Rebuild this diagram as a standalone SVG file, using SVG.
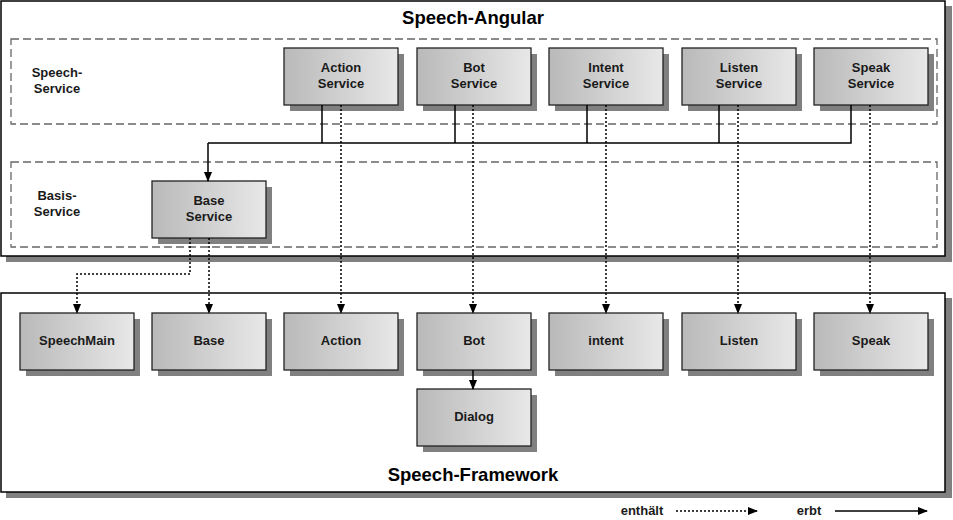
<svg xmlns="http://www.w3.org/2000/svg" width="953" height="520" viewBox="0 0 953 520">
<defs>
<linearGradient id="g" x1="0" x2="1" y1="0" y2="0">
<stop offset="0" stop-color="#b9b9b9"/>
<stop offset="1" stop-color="#e8e8e8"/>
</linearGradient>
<marker id="ah" markerWidth="10" markerHeight="10" refX="9" refY="5" orient="auto" markerUnits="userSpaceOnUse">
<path d="M0,1 L10,5 L0,9 Z" fill="#000"/>
</marker>
<style>
.shadow{fill:#808080}
.box{fill:url(#g);stroke:#222;stroke-width:1.3}
.frame{fill:#fff;stroke:#000;stroke-width:1.5}
.dash{fill:none;stroke:#666;stroke-width:1.3;stroke-dasharray:8,4}
.t{font-family:"Liberation Sans",Arial,sans-serif;font-weight:bold;font-size:13px;fill:#1a1a1a;text-anchor:middle}
.title{font-family:"Liberation Sans",Arial,sans-serif;font-weight:bold;font-size:18.5px;fill:#000;text-anchor:middle}
.inh{fill:none;stroke:#000;stroke-width:1.5}
.con{fill:none;stroke:#000;stroke-width:1.5;stroke-dasharray:2,2}
</style>
</defs>
<rect width="953" height="520" fill="#fff"/>
<g id="speech-angular">
<rect class="shadow" x="6" y="6" width="946" height="256"/>
<rect class="frame" x="1" y="1" width="944" height="255"/>
<text class="title" x="473" y="24">Speech-Angular</text>
</g>
<g id="speech-framework">
<rect class="shadow" x="6" y="298" width="946" height="200"/>
<rect class="frame" x="1" y="293" width="944" height="199"/>
<text class="title" x="473" y="481">Speech-Framework</text>
</g>
<g id="speech-service-group">
<rect class="dash" x="11" y="39" width="926" height="85"/>
<text class="t" x="57" y="77">Speech-</text>
<text class="t" x="57" y="93">Service</text>
</g>
<g id="basis-service-group">
<rect class="dash" x="11" y="162" width="926" height="85"/>
<text class="t" x="57" y="200">Basis-</text>
<text class="t" x="57" y="216">Service</text>
</g>
<g id="action-service"><rect class="shadow" x="290" y="54" width="114" height="57"/><rect class="box" x="284" y="48" width="114" height="57"/><text class="t" x="341" y="72">Action</text><text class="t" x="341" y="88">Service</text></g>
<g id="bot-service"><rect class="shadow" x="423" y="54" width="114" height="57"/><rect class="box" x="417" y="48" width="114" height="57"/><text class="t" x="474" y="72">Bot</text><text class="t" x="474" y="88">Service</text></g>
<g id="intent-service"><rect class="shadow" x="555" y="54" width="114" height="57"/><rect class="box" x="549" y="48" width="114" height="57"/><text class="t" x="606" y="72">Intent</text><text class="t" x="606" y="88">Service</text></g>
<g id="listen-service"><rect class="shadow" x="688" y="54" width="114" height="57"/><rect class="box" x="682" y="48" width="114" height="57"/><text class="t" x="739" y="72">Listen</text><text class="t" x="739" y="88">Service</text></g>
<g id="speak-service"><rect class="shadow" x="820" y="54" width="114" height="57"/><rect class="box" x="814" y="48" width="114" height="57"/><text class="t" x="871" y="72">Speak</text><text class="t" x="871" y="88">Service</text></g>
<g id="base-service"><rect class="shadow" x="158" y="187" width="114" height="57"/><rect class="box" x="152" y="181" width="114" height="57"/><text class="t" x="209" y="205">Base</text><text class="t" x="209" y="221">Service</text></g>
<g id="speechmain"><rect class="shadow" x="26" y="319" width="114" height="57"/><rect class="box" x="20" y="313" width="114" height="57"/><text class="t" x="77" y="345">SpeechMain</text></g>
<g id="base"><rect class="shadow" x="158" y="319" width="114" height="57"/><rect class="box" x="152" y="313" width="114" height="57"/><text class="t" x="209" y="345">Base</text></g>
<g id="action"><rect class="shadow" x="290" y="319" width="114" height="57"/><rect class="box" x="284" y="313" width="114" height="57"/><text class="t" x="341" y="345">Action</text></g>
<g id="bot"><rect class="shadow" x="423" y="319" width="114" height="57"/><rect class="box" x="417" y="313" width="114" height="57"/><text class="t" x="474" y="345">Bot</text></g>
<g id="intent"><rect class="shadow" x="555" y="319" width="114" height="57"/><rect class="box" x="549" y="313" width="114" height="57"/><text class="t" x="606" y="345">intent</text></g>
<g id="listen"><rect class="shadow" x="688" y="319" width="114" height="57"/><rect class="box" x="682" y="313" width="114" height="57"/><text class="t" x="739" y="345">Listen</text></g>
<g id="speak"><rect class="shadow" x="820" y="319" width="114" height="57"/><rect class="box" x="814" y="313" width="114" height="57"/><text class="t" x="871" y="345">Speak</text></g>
<g id="dialog"><rect class="shadow" x="423" y="395" width="114" height="57"/><rect class="box" x="417" y="389" width="114" height="57"/><text class="t" x="474" y="421">Dialog</text></g>
<g id="connectors">
<path class="inh" d="M322,105 V143 M455,105 V143 M587,105 V143 M719,105 V143 M851,105 V143 H208"/>
<path class="inh" d="M208,143 V181" marker-end="url(#ah)"/>
<path class="inh" d="M473,370 V389" marker-end="url(#ah)"/>
<path class="con" d="M341,105 V313" marker-end="url(#ah)"/>
<path class="con" d="M473,105 V313" marker-end="url(#ah)"/>
<path class="con" d="M606,105 V313" marker-end="url(#ah)"/>
<path class="con" d="M738,105 V313" marker-end="url(#ah)"/>
<path class="con" d="M870,105 V313" marker-end="url(#ah)"/>
<path class="con" d="M190,238 V274 H77 V313" marker-end="url(#ah)"/>
<path class="con" d="M209,238 V313" marker-end="url(#ah)"/>
</g>
<g id="legend">
<text class="t" x="642" y="515">enthält</text>
<path class="con" d="M676,511 H757" marker-end="url(#ah)"/>
<text class="t" x="809" y="515">erbt</text>
<path class="inh" d="M835,511 H927" marker-end="url(#ah)"/>
</g>
</svg>
